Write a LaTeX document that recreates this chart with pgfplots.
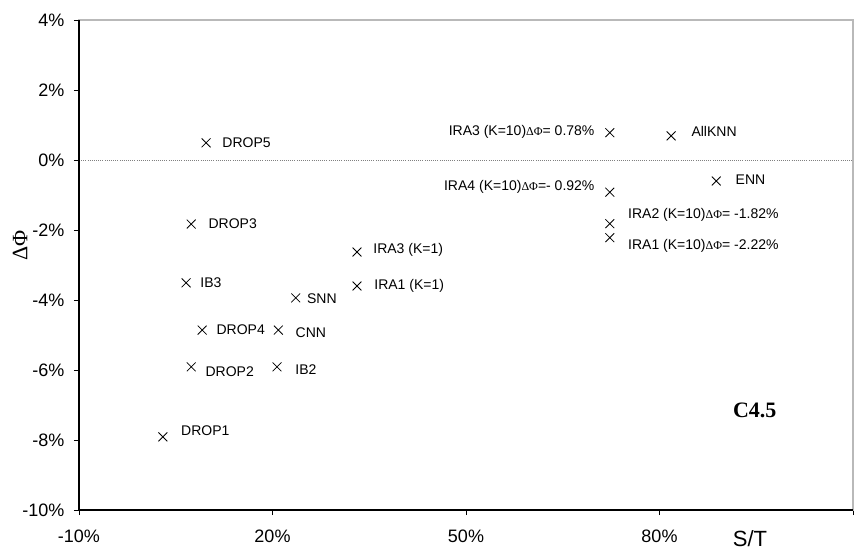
\documentclass[border=0pt]{standalone}
\usepackage{fontspec}
\setmainfont{Liberation Sans}
\newfontfamily\serif{Liberation Serif}
\usepackage{pgfplots}
\pgfplotsset{compat=1.18}
\newcommand\DP{{\serif\fontsize{9}{9}\selectfont ΔΦ}}
% #1 x, #2 y, #3 dx, #4 dy, #5 anchor, #6 label
\newcommand\pnt[6]{\addplot[only marks, mark=x, mark size=4.7pt,
  mark options={line width=0.6pt, black},
  nodes near coords={#6},
  nodes near coords style={anchor=#5, xshift=#3pt, yshift=#4pt, inner sep=0pt,
    font=\fontsize{10.5}{11}\selectfont, text=black}]
  coordinates {(#1,#2)};}

\begin{document}
\begin{tikzpicture}
\begin{axis}[
  at={(0,0)}, anchor=south west,
  scale only axis,
  width=580.5pt, height=367.5pt,
  xmin=-10, xmax=110, ymin=-10, ymax=4,
  xtick={-10,20,50,80,110},
  xticklabels={-10\%,20\%,50\%,80\%,},
  ytick={-10,-8,-6,-4,-2,0,2,4},
  yticklabels={-10\%,-8\%,-6\%,-4\%,-2\%,0\%,2\%,4\%},
  tick align=outside,
  xtick pos=bottom, ytick pos=left,
  major tick length=3.75pt,
  tick style={black, line width=0.6pt},
  axis line style={draw=gray!55, line width=0.8pt},
  ticklabel style={font=\fontsize{13.5}{14}\selectfont},
  xticklabel style={yshift=-8pt},
  yticklabel style={xshift=-3.75pt},
  /pgf/number format/assume math mode=true,
  xlabel={S/T},
  xlabel style={at={(axis description cs:0.867,-0.058)}, anchor=center, font=\fontsize{16.5}{17}\selectfont},
  ylabel={\serif ΔΦ},
  ylabel style={at={(axis description cs:-0.076,0.54)}, anchor=center, font=\fontsize{16.5}{17}\selectfont},
  clip=false,
]
\draw[gray, densely dotted, line width=0.6pt] (axis cs:-10,0) -- (axis cs:110,0);
\draw[black, line width=0.8pt] (rel axis cs:0,1) -- (rel axis cs:0,0) -- (rel axis cs:1,0);
\pnt{3.0}{-7.91}{13.5}{4.5}{west}{DROP1}
\pnt{7.4}{-5.91}{10.5}{-3.75}{west}{DROP2}
\pnt{9.1}{-4.86}{10.5}{0}{west}{DROP4}
\pnt{20.9}{-4.86}{12.75}{-2.25}{west}{CNN}
\pnt{20.7}{-5.91}{13.5}{-2.25}{west}{IB2}
\pnt{6.6}{-3.51}{10.5}{0}{west}{IB3}
\pnt{23.6}{-3.94}{8.25}{-0.75}{west}{SNN}
\pnt{7.4}{-1.83}{12.75}{0}{west}{DROP3}
\pnt{9.7}{0.49}{12}{0}{west}{DROP5}
\pnt{33.1}{-2.63}{12}{1.5}{west}{IRA3 (K=1)}
\pnt{33.1}{-3.60}{12.75}{0}{west}{IRA1 (K=1)}
\pnt{72.3}{0.78}{-11.25}{0.75}{east}{IRA3 (K=10)\DP= 0.78\%}
\pnt{72.3}{-0.92}{-11.25}{3.75}{east}{IRA4 (K=10)\DP=- 0.92\%}
\pnt{72.3}{-1.82}{13.5}{6.75}{west}{IRA2 (K=10)\DP= -1.82\%}
\pnt{72.3}{-2.22}{13.5}{-6}{west}{IRA1 (K=10)\DP= -2.22\%}
\pnt{81.8}{0.69}{15}{3}{west}{AllKNN}
\pnt{88.8}{-0.60}{14.25}{0.75}{west}{ENN}
\node[font=\serif\bfseries\fontsize{16.5}{17}\selectfont] at (axis description cs:0.873,0.204) {C4.5};
\end{axis}
\pgfresetboundingbox
\useasboundingbox (-59.25pt,-30.75pt) rectangle (581.25pt,382.5pt);
\end{tikzpicture}
\end{document}
